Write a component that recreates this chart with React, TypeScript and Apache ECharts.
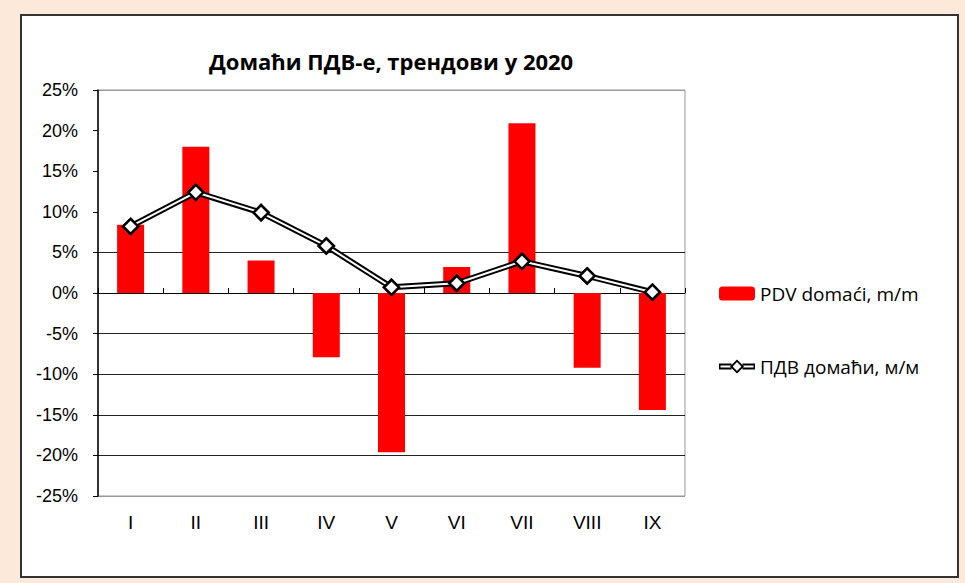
import React, { useEffect, useRef } from "react";
import * as echarts from "echarts";

const categories = ["I", "II", "III", "IV", "V", "VI", "VII", "VIII", "IX"];
const barName = "PDV domaći, m/m";
const lineName = "ПДВ домаћи, м/м";
const barValues = [8.4, 18.0, 4.0, -7.9, -19.6, 3.2, 20.9, -9.2, -14.4];
const lineValues = [8.2, 12.4, 9.9, 5.8, 0.7, 1.2, 3.9, 2.1, 0.1];
const titleText = "Домаћи ПДВ-е, трендови у 2020";
const yMin = -25;
const yMax = 25;
const yStep = 5;
// split line colours per tick from -25 to 25
const splitColors = ["#999", "#222", "#222", "#222", "#222", "#222", "#222", "rgba(0,0,0,0)", "rgba(0,0,0,0)", "rgba(0,0,0,0)", "#999"];

const narrow = "'Liberation Sans Narrow', 'Liberation Sans', Arial, sans-serif";

// legend icon: double line with a hollow diamond
const lineIcon =
  "path://M0 4 L12.5 4 L12.5 10 L0 10 Z M1.5 6 L1.5 8 L12.5 8 L12.5 6 Z " +
  "M23.5 4 L36 4 L36 10 L23.5 10 Z M23.5 6 L23.5 8 L34.5 8 L34.5 6 Z " +
  "M18 0 L25 7 L18 14 L11 7 Z M18 2.6 L13.6 7 L18 11.4 L22.4 7 Z";

export default function App() {
  const ref = useRef<HTMLDivElement>(null);
  useEffect(() => {
    document.body.style.margin = "0";
    const chart = echarts.init(ref.current!, null, { renderer: "svg" });
    chart.setOption({
      animation: false,
      backgroundColor: "#FDE9DA",
      graphic: [
        {
          type: "rect",
          z: -10,
          shape: { x: 21, y: 15, width: 937, height: 562 },
          style: { fill: "#ffffff", stroke: "#333", lineWidth: 2 },
        },
      ],
      title: {
        text: titleText,
        left: 204,
        top: 45,
        textStyle: { fontFamily: "'Open Sans', sans-serif", fontWeight: "bold", fontSize: 22, color: "#000" },
      },
      legend: {
        orient: "vertical",
        left: 714,
        top: 279,
        itemGap: 54,
        itemWidth: 36,
        itemHeight: 14,
        textStyle: { fontFamily: "'Open Sans', sans-serif", fontSize: 19, color: "#000" },
        data: [
          { name: barName },
          { name: lineName, icon: lineIcon, itemStyle: { color: "#000", borderWidth: 0 } },
        ],
      },
      grid: {
        left: 98,
        top: 90,
        right: 280,
        bottom: 87,
        show: true,
        borderColor: "#999",
        borderWidth: 1,
        backgroundColor: "transparent",
      },
      xAxis: [
        {
          type: "category",
          data: categories,
          position: "bottom",
          axisLine: { show: false, onZero: false },
          axisTick: { show: false },
          axisLabel: { fontFamily: narrow, fontSize: 19, color: "#000", margin: 17 },
        },
        {
          type: "category",
          data: categories,
          axisLine: { show: true, onZero: true, lineStyle: { color: "#000", width: 1 } },
          axisTick: { show: true, length: 5, lineStyle: { color: "#000" } },
          axisLabel: { show: false },
        },
      ],
      yAxis: {
        type: "value",
        min: yMin,
        max: yMax,
        interval: yStep,
        axisLine: { show: true, lineStyle: { color: "#000", width: 1.5 } },
        axisTick: { show: true, length: 5, lineStyle: { color: "#000" } },
        axisLabel: {
          formatter: (v: number) => `${v}%`,
          fontFamily: narrow,
          fontSize: 18,
          color: "#000",
          margin: 20,
        },
        splitLine: { show: true, lineStyle: { color: splitColors, width: 1 } },
      },
      series: [
        {
          name: barName,
          type: "bar",
          data: barValues,
          barWidth: 27,
          itemStyle: { color: "#FF0000" },
          z: 2,
        },
        {
          name: lineName,
          type: "line",
          data: lineValues,
          symbol: "diamond",
          symbolSize: 15,
          itemStyle: { color: "#fff", borderColor: "#000", borderWidth: 2.5 },
          lineStyle: { color: "#000", width: 6 },
          z: 3,
        },
        {
          name: lineName,
          type: "line",
          data: lineValues,
          showSymbol: false,
          symbol: "none",
          lineStyle: { color: "#fff", width: 2 },
          z: 4,
        },
        {
          name: lineName,
          type: "line",
          data: lineValues,
          symbol: "diamond",
          symbolSize: 15,
          itemStyle: { color: "#fff", borderColor: "#000", borderWidth: 2.5 },
          lineStyle: { width: 0, opacity: 0 },
          z: 5,
        },
      ],
    });
    return () => chart.dispose();
  }, []);
  return <div ref={ref} style={{ position: "fixed", left: 0, top: 0, width: 965, height: 583 }} />;
}
